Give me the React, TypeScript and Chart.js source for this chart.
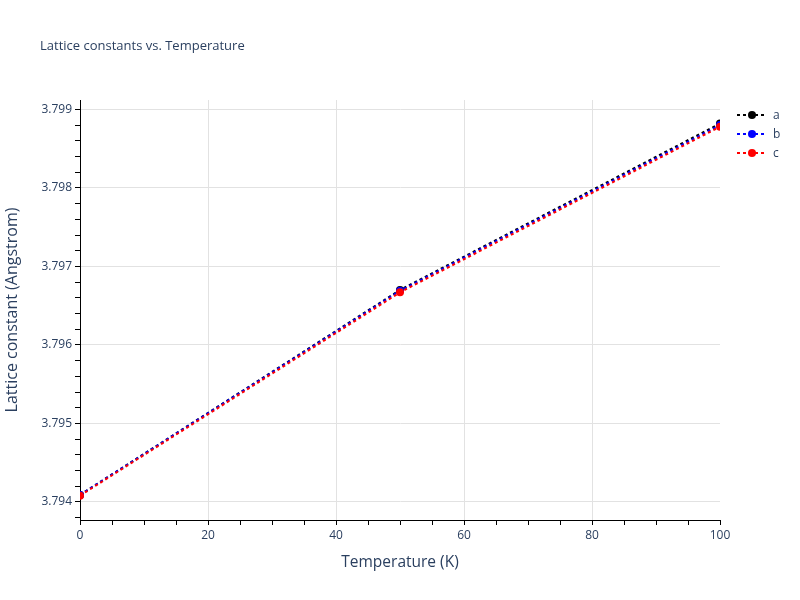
import { useEffect, useRef } from 'react';
import { Chart, registerables } from 'chart.js';
Chart.register(...registerables);

// data
const temperatures = [0, 50, 100];
const latticeA = [3.79409, 3.7967, 3.79882];
const latticeB = [3.79409, 3.79669, 3.7988];
const latticeC = [3.79408, 3.79667, 3.79878];
const seriesNames = ['a', 'b', 'c'];
const seriesColors = ['#000000', '#0000ff', '#ff0000'];

// axis ranges and tick steps
const xRange = [0, 100];
const yRange = [3.79377, 3.79912];
const xMinorStep = 5;
const xMajorEvery = 4;
const yMinorStep = 0.0002;
const yMajorEvery = 5;

const FONT = '"Open Sans", Arial, sans-serif';
const TEXT = '#2a3f5f';

function stepTicks(min: number, max: number, step: number, majorEvery: number) {
  const out: { value: number; major: boolean; edge: boolean }[] = [];
  const k0 = Math.ceil(min / step - 1e-9);
  const k1 = Math.floor(max / step + 1e-9);
  for (let k = k0; k <= k1; k++) {
    const value = k * step;
    out.push({
      value,
      major: k % majorEvery === 0,
      edge: Math.abs(value - min) < step / 100 || Math.abs(value - max) < step / 100,
    });
  }
  return out;
}

export default function App() {
  const canvasRef = useRef<HTMLCanvasElement>(null);

  useEffect(() => {
    const series = [latticeA, latticeB, latticeC];
    const gridColor = (ctx: any) =>
      ctx.tick && ctx.tick.major && !ctx.tick.edge ? '#e2e2e2' : 'rgba(0,0,0,0)';

    const chart = new Chart(canvasRef.current!, {
      type: 'line',
      data: {
        datasets: series.map((vals, i) => ({
          label: seriesNames[i],
          data: temperatures.map((t, j) => ({ x: t, y: vals[j] })),
          borderColor: seriesColors[i],
          backgroundColor: seriesColors[i],
          pointBackgroundColor: seriesColors[i],
          pointBorderWidth: 0,
          pointRadius: 4,
          borderWidth: 2,
          borderDash: [3, 3],
          tension: 0,
          fill: false,
          clip: 0,
          order: series.length - i,
        })),
      },
      options: {
        animation: false,
        responsive: false,
        layout: { padding: { left: 0, top: 100, right: 80, bottom: 0 } },
        plugins: { legend: { display: false }, tooltip: { enabled: false }, title: { display: false } },
        scales: {
          x: {
            type: 'linear',
            min: xRange[0],
            max: xRange[1],
            afterBuildTicks: (s: any) => { s.ticks = stepTicks(xRange[0], xRange[1], xMinorStep, xMajorEvery); },
            afterFit: (s: any) => { s.height = 80; },
            ticks: {
              autoSkip: false,
              maxRotation: 0,
              padding: 3,
              color: TEXT,
              font: { size: 12, family: FONT },
              callback: (v: any, i: number, ticks: any[]) => (ticks[i].major ? String(Math.round(v)) : ''),
            },
            grid: { color: gridColor, tickColor: '#000', tickLength: 5, lineWidth: 1 },
            border: { color: '#000', width: 1 },
            title: {
              display: true,
              text: 'Temperature (K)',
              color: TEXT,
              font: { size: 15.5, family: FONT },
              padding: { top: 0, bottom: 28 },
            },
          },
          y: {
            type: 'linear',
            min: yRange[0],
            max: yRange[1],
            afterBuildTicks: (s: any) => { s.ticks = stepTicks(yRange[0], yRange[1], yMinorStep, yMajorEvery); },
            afterFit: (s: any) => { s.width = 80; },
            ticks: {
              autoSkip: false,
              padding: 3,
              color: TEXT,
              font: { size: 12, family: FONT },
              callback: (v: any, i: number, ticks: any[]) => (ticks[i].major ? Number(v).toFixed(3) : ''),
            },
            grid: { color: gridColor, tickColor: '#000', tickLength: 5, lineWidth: 1 },
            border: { color: '#000', width: 1 },
            title: {
              display: true,
              text: 'Lattice constant (Angstrom)',
              color: TEXT,
              font: { size: 16, family: FONT },
              padding: { top: 2.5, bottom: 0 },
            },
          },
        },
      },
    });
    return () => chart.destroy();
  }, []);

  return (
    <div style={{ position: 'absolute', left: 0, top: 0, width: 800, height: 600, background: '#fff', fontFamily: FONT }}>
      <canvas ref={canvasRef} width={800} height={600} style={{ width: 800, height: 600 }} />
      <div style={{ position: 'absolute', left: 40, top: 36, fontSize: 13, color: TEXT, whiteSpace: 'nowrap' }}>
        Lattice constants vs. Temperature
      </div>
      <div style={{ position: 'absolute', left: 736, top: 105 }}>
        {seriesNames.map((name, i) => (
          <div key={name} style={{ display: 'flex', alignItems: 'center', height: 19, fontSize: 12, color: TEXT }}>
            <svg width={30} height={10} style={{ marginRight: 7 }}>
              <line x1={1} y1={5} x2={29} y2={5} stroke={seriesColors[i]} strokeWidth={2} strokeDasharray="3,3" />
              <circle cx={16} cy={5} r={4} fill={seriesColors[i]} />
            </svg>
            {name}
          </div>
        ))}
      </div>
    </div>
  );
}
